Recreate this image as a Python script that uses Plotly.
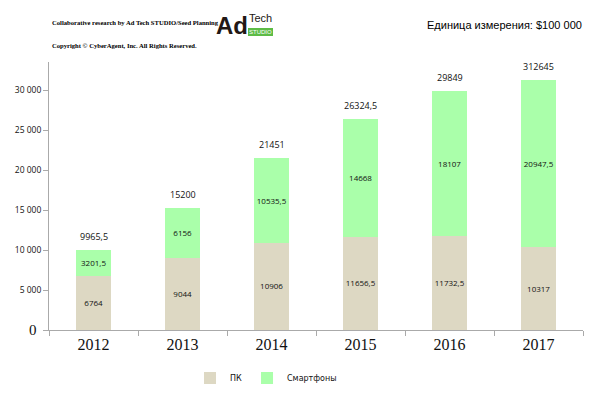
import plotly.graph_objects as go

years = ["2012", "2013", "2014", "2015", "2016", "2017"]
pc = [6764, 9044, 10906, 11656.5, 11732.5, 10317]
smart = [3201.5, 6156, 10535.5, 14668, 18107, 20947.5]
total_labels = ["9965,5", "15200", "21451", "26324,5", "29849", "312645"]
y_ticks = [5000, 10000, 15000, 20000, 25000, 30000]
y_tick_text = ["5 000", "10 000", "15 000", "20 000", "25 000", "30 000"]

def fmt(v):
    return ("%g" % v).replace(".", ",")

sans = "Open Sans, Arial, sans-serif"
serif = "Liberation Serif, Times New Roman, serif"
lsans = "Liberation Sans, Arial, sans-serif"
label_font = dict(family=sans, size=9, color="#111111")

# page offset (body margin) compensation
OFF = 8
W, H = 594, 400
pl, pt = 41, 54
pw, ph = 534, 268
pr = W - pl - pw
pb = H - pt - ph

def px(x):
    return (x - OFF - pl) / pw

def py(y):
    return (H - pb - (y - OFF)) / ph

fig = go.Figure()
fig.add_trace(go.Bar(
    x=years, y=pc, name="ПК", marker=dict(color="#DDD8C3", line=dict(width=0)),
    text=[fmt(v) for v in pc], textposition="inside", insidetextanchor="middle",
    textfont=label_font, width=0.4, textangle=0,
))
fig.add_trace(go.Bar(
    x=years, y=smart, name="Смартфоны", marker=dict(color="#AAFFAA", line=dict(width=0)),
    text=[fmt(v) for v in smart], textposition="inside", insidetextanchor="middle",
    textfont=label_font, width=0.4, textangle=0,
))

for i, (a, b, t) in enumerate(zip(pc, smart, total_labels)):
    fig.add_annotation(xref="x", yref="y", x=i, y=a + b, text=t, showarrow=False,
                       yanchor="bottom", yshift=5, font=label_font)

# zero label (larger, as in reference)
fig.add_annotation(xref="paper", yref="y", x=0, y=0, xanchor="right", xshift=-10,
                   text="0", showarrow=False,
                   font=dict(family=serif, size=15, color="#111"))

fig.update_layout(
    width=W, height=H,
    margin=dict(l=pl, r=pr, t=pt, b=pb),
    paper_bgcolor="white", plot_bgcolor="white",
    barmode="stack",
    showlegend=True,
    legend=dict(orientation="h", x=px(190), xanchor="left", y=py(378), yanchor="middle",
                font=dict(family="DejaVu Sans, sans-serif", size=8, color="#111"),
                itemwidth=30, traceorder="normal", tracegroupgap=0),
    uniformtext=dict(minsize=8, mode="show"),
)

fig.update_xaxes(
    type="category", range=[-0.5, 5.5], automargin=False,
    showline=True, linecolor="#AAAAAA", linewidth=1,
    ticks="outside", tickson="boundaries", ticklen=5, tickcolor="#AAAAAA",
    tickfont=dict(family=serif, size=16, color="#111"), tickangle=0, showgrid=False,
)
fig.update_yaxes(
    range=[0, 33500], automargin=False, showline=True, linecolor="#AAAAAA", linewidth=1,
    ticks="outside", ticklen=5, tickcolor="#AAAAAA",
    tickvals=[0] + y_ticks, ticktext=[""] + y_tick_text,
    tickfont=dict(family=sans, size=8.5, color="#111"),
    showgrid=False, zeroline=False,
)

fig.add_annotation(xref="paper", yref="paper", x=px(50), y=py(22), xanchor="left", yanchor="middle",
                   showarrow=False, text="<b>Collaborative research by Ad Tech STUDIO/Seed Planning</b>",
                   font=dict(family=serif, size=6.6, color="#000"))
fig.add_annotation(xref="paper", yref="paper", x=px(50), y=py(45), xanchor="left", yanchor="middle",
                   showarrow=False, text="<b>Copyright © CyberAgent, Inc. All Rights Reserved.</b>",
                   font=dict(family=serif, size=6.6, color="#000"))
fig.add_annotation(xref="paper", yref="paper", x=px(214), y=py(25), xanchor="left", yanchor="middle",
                   showarrow=False, text="<b>Ad</b>",
                   font=dict(family=lsans, size=24, color="#231815"))
fig.add_annotation(xref="paper", yref="paper", x=px(247), y=py(18), xanchor="left", yanchor="middle",
                   showarrow=False, text="Tech",
                   font=dict(family=lsans, size=11, color="#231815"))
fig.add_shape(type="rect", xref="paper", yref="paper", x0=px(248), x1=px(273), y0=py(36), y1=py(28),
              fillcolor="#5DBB46", line=dict(width=0), layer="above")
fig.add_annotation(xref="paper", yref="paper", x=px(260.5), y=py(32), xanchor="center", yanchor="middle",
                   showarrow=False, text="STUDIO",
                   font=dict(family=lsans, size=6, color="#FFFFFF"))
fig.add_annotation(xref="paper", yref="paper", x=px(584), y=py(25), xanchor="right", yanchor="middle",
                   showarrow=False, text="Единица измерения: $100 000",
                   font=dict(family=lsans, size=11, color="#000"))

fig.write_html("out.html")
